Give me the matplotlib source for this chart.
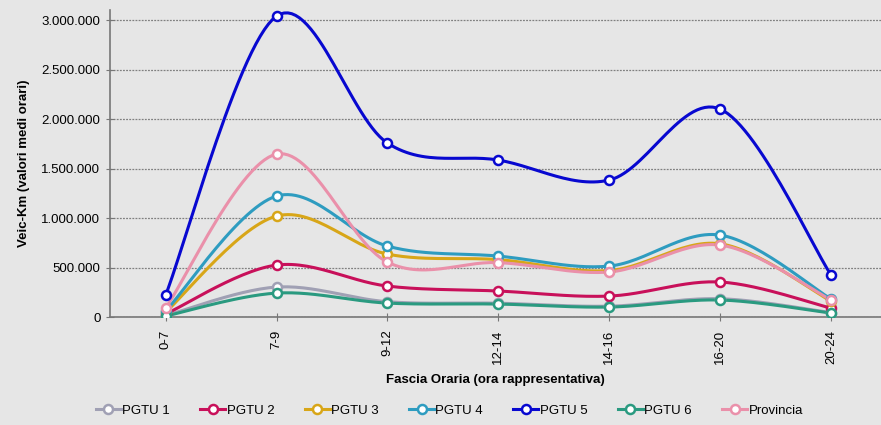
import numpy as np
import matplotlib.pyplot as plt
from matplotlib.ticker import FuncFormatter
from matplotlib.lines import Line2D

plt.rcParams['font.family'] = ['Liberation Sans', 'DejaVu Sans']

fasce = ['0-7', '7-9', '9-12', '12-14', '14-16', '16-20', '20-24']

pgtu1 = [15000, 303000, 155000, 140000, 110000, 185000, 45000]
pgtu2 = [30000, 525000, 313000, 263000, 212000, 354000, 90000]
pgtu3 = [50000, 1020000, 636000, 580000, 470000, 740000, 160000]
pgtu4 = [60000, 1222000, 717000, 616000, 515000, 828000, 182000]
pgtu5 = [220000, 3040000, 1758000, 1586000, 1384000, 2101000, 424000]
pgtu6 = [10000, 242000, 141000, 131000, 101000, 172000, 40000]
provincia = [90000, 1646000, 555000, 550000, 455000, 727000, 172000]

series = [
    ('PGTU 1', pgtu1, '#a0a0b4'),
    ('PGTU 2', pgtu2, '#c8105a'),
    ('PGTU 3', pgtu3, '#d8a618'),
    ('PGTU 4', pgtu4, '#2e9cc0'),
    ('PGTU 5', pgtu5, '#0808d0'),
    ('PGTU 6', pgtu6, '#2a9a80'),
    ('Provincia', provincia, '#ea90aa'),
]


def smooth(x, y, n=30):
    # catmull-rom style smoothing, like the spreadsheet "smoothed line"
    x = np.asarray(x, float)
    y = np.asarray(y, float)
    px = np.concatenate([[x[0]], x, [x[-1]]])
    py = np.concatenate([[y[0]], y, [y[-1]]])
    xs, ys = [], []
    t = np.linspace(0, 1, n)
    for i in range(1, len(px) - 2):
        p0, p1, p2, p3 = (np.array([px[j], py[j]]) for j in range(i - 1, i + 3))
        c1 = p1 + (p2 - p0) / 6
        c2 = p2 - (p3 - p1) / 6
        b = ((1 - t) ** 3)[:, None] * p1 + (3 * (1 - t) ** 2 * t)[:, None] * c1 \
            + (3 * (1 - t) * t ** 2)[:, None] * c2 + (t ** 3)[:, None] * p2
        xs.append(b[:, 0])
        ys.append(b[:, 1])
    return np.concatenate(xs), np.concatenate(ys)


bg = '#e6e6e6'
fig = plt.figure(figsize=(8.81, 4.25), dpi=100, facecolor=bg)
ax = fig.add_axes([0.125, 0.254, 0.875, 0.722], facecolor=bg)

xpos = np.arange(len(fasce))
handles = []
for name, vals, col in series:
    sx, sy = smooth(xpos, vals)
    ax.plot(sx, sy, color=col, lw=2.2, solid_capstyle='round', zorder=3)
    ax.plot(xpos, vals, 'o', ms=6.5, mfc='white', mec=col, mew=1.8, zorder=4)
    handles.append(Line2D([0], [0], color=col, lw=2.2, marker='o', ms=6.5,
                          mfc='white', mec=col, mew=1.8))

ax.set_xlim(-0.5, 6.45)
ax.set_ylim(0, 3100000)
ax.set_yticks(np.arange(0, 3000001, 500000))
ax.yaxis.set_major_formatter(FuncFormatter(lambda v, p: f'{int(v):,}'.replace(',', '.')))
ax.set_xticks(xpos)
ax.set_xticklabels(fasce, rotation=90, fontsize=9.5)
ax.tick_params(axis='y', labelsize=9.5, length=6, direction='inout', color='#777777', pad=4)
ax.tick_params(axis='x', length=6, direction='inout', color='#777777', pad=6)
ax.grid(axis='y', linestyle=(0, (1.5, 1)), color='#808080', lw=0.9)
ax.set_axisbelow(True)
for s in ['top', 'right']:
    ax.spines[s].set_visible(False)
for s in ['left', 'bottom']:
    ax.spines[s].set_color('#777777')
    ax.spines[s].set_linewidth(1.2)

ax.set_xlabel('Fascia Oraria (ora rappresentativa)', fontsize=9.5, fontweight='bold', labelpad=7)
ax.set_ylabel('Veic-Km (valori medi orari)', fontsize=9.5, fontweight='bold', labelpad=8)

fig.legend(handles, [s[0] for s in series], loc='center', bbox_to_anchor=(0.51, 0.033),
           ncol=7, frameon=False, fontsize=9.5, handlelength=1.9, handletextpad=0.1,
           columnspacing=2.3)

fig.savefig('out.png', dpi=100, facecolor=bg)
